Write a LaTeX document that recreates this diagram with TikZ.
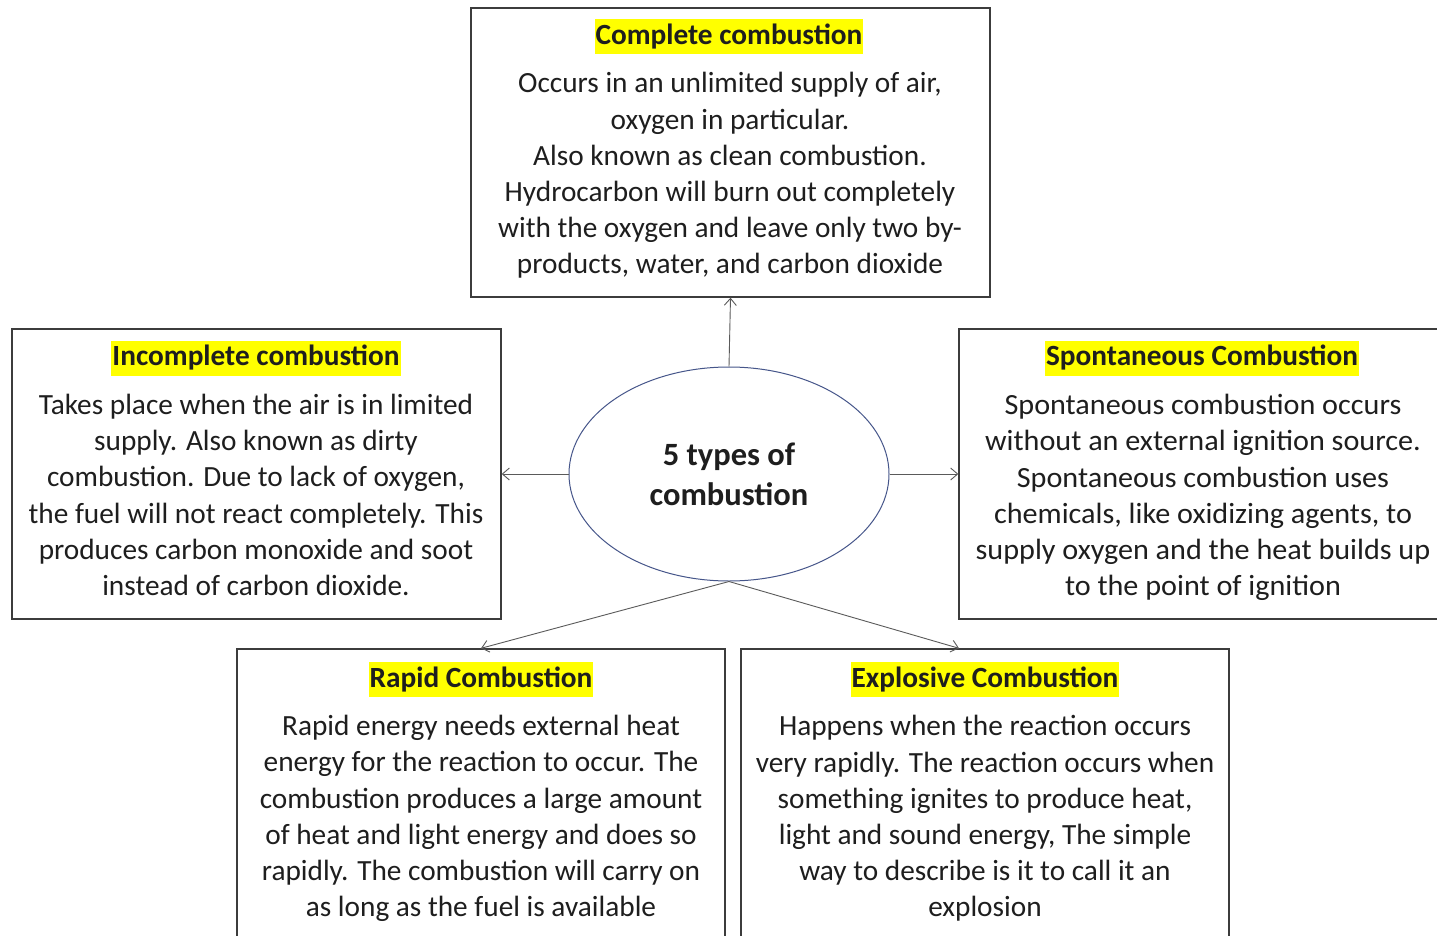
\documentclass[tikz,border=0pt]{standalone}
\usepackage{fontspec}
\setmainfont{Carlito}
\newfontfamily\widefont[FakeStretch=1.03]{Carlito}
\usetikzlibrary{shapes.geometric,arrows.meta}
\definecolor{boxline}{HTML}{3C3C3C}
\definecolor{linkline}{HTML}{5A5A5A}
\definecolor{ellline}{HTML}{46568A}
\definecolor{inktext}{HTML}{1E1E1E}
\definecolor{marker}{HTML}{FFFF00}
\tikzset{
  box/.style={draw=boxline, line width=1.4pt, fill=white, rectangle, inner sep=0pt},
  hub/.style={draw=ellline, line width=1pt, ellipse, inner sep=0pt,
    minimum width=320pt, minimum height=214pt, align=center, text=inktext,
    font=\fontsize{32.5}{40}\selectfont\bfseries},
  heading/.style={fill=marker, inner xsep=1pt, inner ysep=0pt, minimum height=35pt,
    text=inktext, font=\fontsize{29.3}{32}\selectfont\bfseries},
  bodytext/.style={align=center, inner sep=0pt, text=inktext,
    font=\fontsize{29.3}{36.2}\selectfont},
  link/.style={draw=linkline, line width=0.9pt,
    -{Straight Barb[length=7pt,width=12pt,line width=0.9pt]}}
}
\begin{document}
\begin{tikzpicture}[x=1pt,y=-1pt]
\clip (0,0) rectangle (1437,936);
\fill[white] (0,0) rectangle (1437,936);

% the five boxes
\node[box, minimum width=519pt, minimum height=289pt] (complete) at (730.5,152.5) {};
\node[box, minimum width=489pt, minimum height=290pt] (incomplete) at (256.5,474) {};
\node[box, minimum width=491pt, minimum height=290pt] (spont) at (1204.5,474) {};
\node[box, minimum width=488pt, minimum height=300pt] (rapid) at (481,799) {};
\node[box, minimum width=488pt, minimum height=300pt] (explosive) at (985,799) {};

% central ellipse
\node[hub] (hub) at (729,474) {5 types of\\combustion};

% connectors
\draw[link] (hub.north) -- (complete.south);
\draw[link] (hub.west) -- (incomplete.east);
\draw[link] (hub.east) -- (spont.west);
\draw[link] (hub.south) -- (rapid.north);
\draw[link] (hub.south) -- ([xshift=-26pt]explosive.north);

% headings
\node[heading] (completeH) at (729,37) {Complete combustion};
\node[heading] (incompleteH) at (256,358) {Incomplete combustion};
\node[heading] (spontH) at (1202,358) {Spontaneous Combustion};
\node[heading] (rapidH) at (481,679) {Rapid Combustion};
\node[heading] (explosiveH) at (985,679) {Explosive Combustion};

% body texts
\node[bodytext] (completeB) at (730,175.5) {Occurs in an unlimited supply of air,\\oxygen in particular.\\Also known as clean combustion.\\Hydrocarbon will burn out completely\\with the oxygen and leave only two by-\\products, water, and carbon dioxide};
\node[bodytext] (incompleteB) at (256,495) {Takes place when the air is in limited\\supply. Also known as dirty\\combustion. Due to lack of oxygen,\\the fuel will not react completely. This\\produces carbon monoxide and soot\\instead of carbon dioxide.};
\node[bodytext, font=\fontsize{29.3}{36.2}\selectfont\widefont] (spontB) at (1203,497.5) {Spontaneous combustion occurs\\without an external ignition source.\\Spontaneous combustion uses\\chemicals, like oxidizing agents, to\\supply oxygen and the heat builds up\\to the point of ignition};
\node[bodytext] (rapidB) at (481,818.5) {Rapid energy needs external heat\\energy for the reaction to occur. The\\combustion produces a large amount\\of heat and light energy and does so\\rapidly. The combustion will carry on\\as long as the fuel is available};
\node[bodytext] (explosiveB) at (985,818.5) {Happens when the reaction occurs\\very rapidly. The reaction occurs when\\something ignites to produce heat,\\light and sound energy, The simple\\way to describe is it to call it an\\explosion};
\end{tikzpicture}
\end{document}
